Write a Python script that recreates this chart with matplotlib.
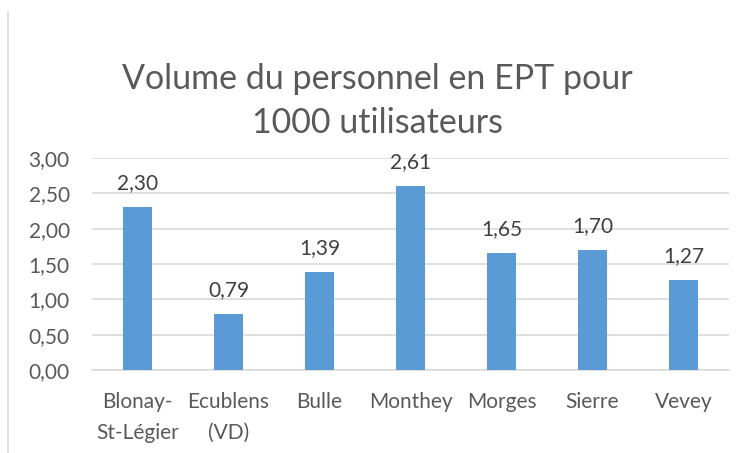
import matplotlib
matplotlib.use("Agg")
import matplotlib.pyplot as plt
from matplotlib.lines import Line2D

categories = ["Blonay-\nSt-Légier", "Ecublens\n(VD)", "Bulle", "Monthey", "Morges", "Sierre", "Vevey"]
values = [2.30, 0.79, 1.39, 2.61, 1.65, 1.70, 1.27]
yticks = [0, 0.5, 1.0, 1.5, 2.0, 2.5, 3.0]
title = "Volume du personnel en EPT pour\n1000 utilisateurs"

plt.rcParams['font.family'] = ['Lato', 'DejaVu Sans']

fig = plt.figure(figsize=(7.46, 4.53), dpi=100)
ax = fig.add_axes([92/746, 1-370/453, (729-92)/746, (370-158)/453])

x = list(range(len(categories)))
ax.bar(x, values, width=0.31, color="#5B9BD5", zorder=3)
for xi, v in zip(x, values):
    ax.annotate(f"{v:.2f}".replace(".", ","), (xi, v), xytext=(0, 10), textcoords="offset points",
                ha="center", va="bottom", fontsize=15, color="#404040")

ax.set_xlim(-0.5, len(categories) - 0.5)
ax.set_ylim(0, 3.0)
ax.set_yticks(yticks)
ax.set_yticklabels([f"{t:.2f}".replace(".", ",") for t in yticks])
ax.set_xticks(x)
ax.set_xticklabels(categories, linespacing=1.65)
ax.tick_params(axis="both", length=0, labelsize=15, labelcolor="#595959")
ax.tick_params(axis="x", pad=16)
ax.tick_params(axis="y", pad=16)
ax.grid(axis="y", color="#D9D9D9", linewidth=1.2, zorder=0)
for s in ["top", "right", "left"]:
    ax.spines[s].set_visible(False)
ax.spines["bottom"].set_color("#D9D9D9")
ax.spines["bottom"].set_linewidth(1.2)

fig.text(377/746, 1-101/453, title, ha="center", va="center", fontsize=24.5,
         color="#595959", linespacing=1.45)

fig.add_artist(Line2D([7.5/746, 7.5/746], [0, 1-12/453], color="#D9D9D9", linewidth=1.2,
                      transform=fig.transFigure))

fig.savefig("out.png", dpi=100)
